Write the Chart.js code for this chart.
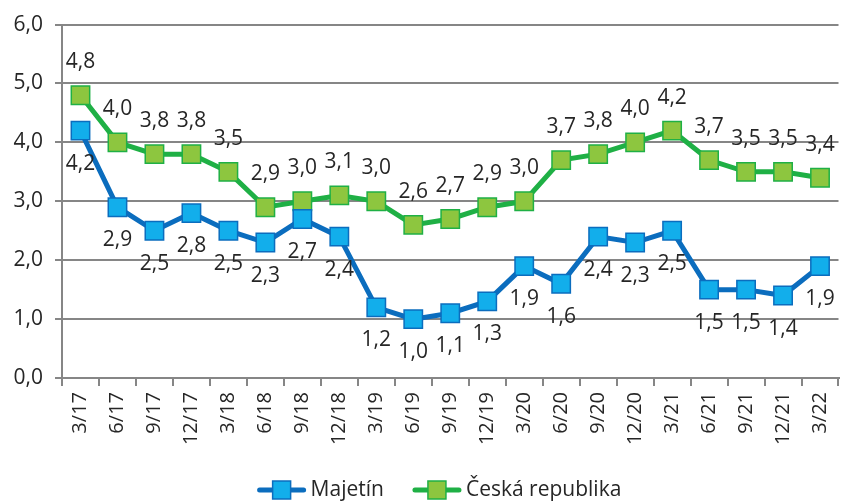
<!DOCTYPE html>
<html>
<head>
<meta charset="utf-8">
<script src="https://cdn.jsdelivr.net/npm/chart.js@4/dist/chart.umd.min.js"></script>
<style>
  body { margin: 0; background: #fff; }
  #wrap { width: 853px; height: 502px; }
</style>
</head>
<body>
<div id="wrap"><canvas id="lineChart"></canvas></div>
<script>
// Data
const labels = ["3/17", "6/17", "9/17", "12/17", "3/18", "6/18", "9/18", "12/18", "3/19", "6/19", "9/19",
  "12/19", "3/20", "6/20", "9/20", "12/20", "3/21", "6/21", "9/21", "12/21", "3/22"];
const majetin = [4.2, 2.9, 2.5, 2.8, 2.5, 2.3, 2.7, 2.4, 1.2, 1.0, 1.1, 1.3, 1.9, 1.6, 2.4, 2.3, 2.5, 1.5, 1.5, 1.4, 1.9];
const ceskaRepublika = [4.8, 4.0, 3.8, 3.8, 3.5, 2.9, 3.0, 3.1, 3.0, 2.6, 2.7, 2.9, 3.0, 3.7, 3.8, 4.0, 4.2, 3.7, 3.5, 3.5, 3.4];
const yTicks = [0, 1, 2, 3, 4, 5, 6];

const FONT = "'Open Sans', 'Noto Sans', sans-serif";
const TEXT = "#262626";

function fmt(v) {
  return v.toFixed(1).replace(".", ",");
}

// value labels: green above the points, blue below
const valueLabels = {
  id: "valueLabels",
  afterDatasetsDraw(chart) {
    let ctx = chart.ctx;
    ctx.save();
    ctx.font = "21px " + FONT;
    ctx.fillStyle = TEXT;
    ctx.textAlign = "center";
    ctx.textBaseline = "middle";
    chart.data.datasets.forEach((ds, i) => {
      let meta = chart.getDatasetMeta(i);
      let dy = i === 0 ? 33 : -33;
      meta.data.forEach((pt, j) => {
        ctx.fillText(fmt(ds.data[j]), pt.x, pt.y + dy);
      });
    });
    ctx.restore();
  }
};

// legend drawn by hand: a line with a square on it, then the name
const bottomLegend = {
  id: "bottomLegend",
  afterDraw(chart) {
    let ctx = chart.ctx;
    let sets = chart.data.datasets;
    let iconW = 50, gap = 4, spacing = 28, y = 490;
    ctx.save();
    ctx.font = "21px " + FONT;
    let total = 0;
    sets.forEach((ds, i) => {
      total += iconW + gap + ctx.measureText(ds.label).width + (i > 0 ? spacing : 0);
    });
    let x = 439 - total / 2;
    sets.forEach((ds) => {
      ctx.strokeStyle = ds.borderColor;
      ctx.lineWidth = 5;
      ctx.lineCap = "round";
      ctx.beginPath();
      ctx.moveTo(x + 3, y);
      ctx.lineTo(x + iconW - 3, y);
      ctx.stroke();
      ctx.fillStyle = ds.pointBackgroundColor;
      ctx.lineWidth = 1.5;
      ctx.fillRect(x + iconW / 2 - 9, y - 9, 18, 18);
      ctx.strokeRect(x + iconW / 2 - 9, y - 9, 18, 18);
      ctx.fillStyle = TEXT;
      ctx.textAlign = "left";
      ctx.textBaseline = "middle";
      ctx.fillText(ds.label, x + iconW + gap, y);
      x += iconW + gap + ctx.measureText(ds.label).width + spacing;
    });
    ctx.restore();
  }
};

let ctx = document.getElementById("lineChart").getContext("2d");
new Chart(ctx, {
  type: "line",
  data: {
    labels: labels,
    datasets: [
      {
        label: "Majetín",
        data: majetin,
        borderColor: "#0B6DBE",
        borderWidth: 5,
        pointStyle: "rect",
        pointRadius: 13,
        pointBackgroundColor: "#12AEEB",
        pointBorderColor: "#0B6DBE",
        pointBorderWidth: 1.5,
        tension: 0,
        fill: false,
      },
      {
        label: "Česká republika",
        data: ceskaRepublika,
        borderColor: "#1FB045",
        borderWidth: 5,
        pointStyle: "rect",
        pointRadius: 13,
        pointBackgroundColor: "#8DC63F",
        pointBorderColor: "#1FB045",
        pointBorderWidth: 1.5,
        tension: 0,
        fill: false,
      },
    ],
  },
  options: {
    responsive: true,
    maintainAspectRatio: false,
    animation: false,
    layout: { padding: { top: 14, right: 2, left: 0, bottom: 32 } },
    plugins: {
      tooltip: { enabled: false },
      legend: { display: false },
    },
    scales: {
      x: {
        offset: true,
        afterFit(axis) {
          axis.paddingLeft = 0;
          axis.paddingRight = 0;
          axis.height = 92;
        },
        grid: {
          offset: true,
          drawOnChartArea: false,
          drawTicks: true,
          tickLength: 8,
          color: "#868686",
          lineWidth: 2,
        },
        border: { color: "#868686", width: 2 },
        ticks: {
          color: TEXT,
          font: { family: FONT, size: 20 },
          minRotation: 90,
          maxRotation: 90,
          autoSkip: false,
          padding: 6,
        },
      },
      y: {
        min: yTicks[0],
        max: yTicks[yTicks.length - 1],
        afterBuildTicks(axis) {
          axis.ticks = yTicks.map((v) => ({ value: v }));
        },
        afterFit(axis) {
          axis.width = 62;
        },
        grid: {
          color: "#868686",
          lineWidth: 2,
          tickLength: 7,
        },
        border: { color: "#868686", width: 2 },
        ticks: {
          color: TEXT,
          font: { family: FONT, size: 21 },
          padding: 12,
          callback: (v) => fmt(v),
        },
      },
    },
  },
  plugins: [valueLabels, bottomLegend],
});
</script>
</body>
</html>
